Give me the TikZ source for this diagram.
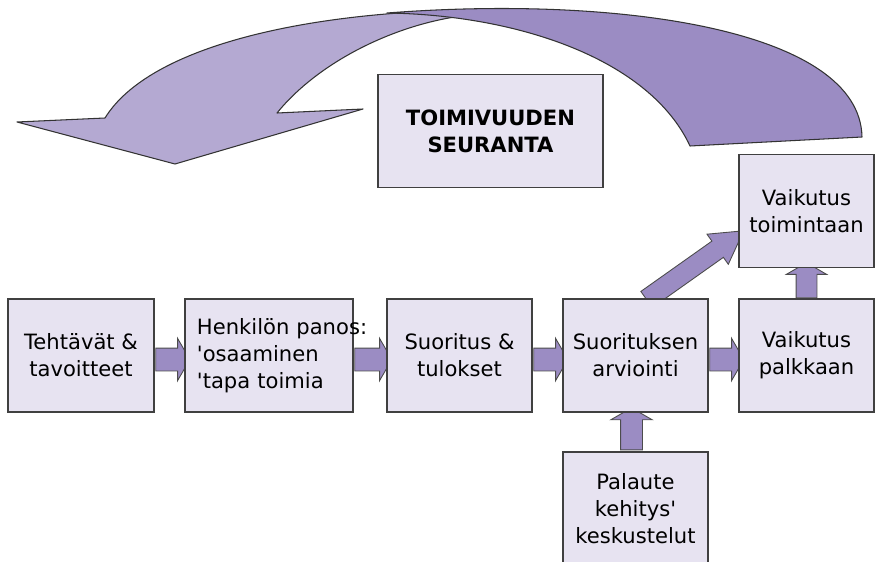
\documentclass[tikz,border=0pt]{standalone}
\usepackage{fontspec}
\setmainfont{DejaVu Sans}
\usetikzlibrary{calc,shapes.arrows,backgrounds}
\definecolor{boxfill}{HTML}{E7E3F1}
\definecolor{arrowdark}{HTML}{9B8CC3}
\definecolor{arrowlight}{HTML}{B4A9D2}
\begin{document}
\begin{tikzpicture}
        [x=0.2mm, y=-0.2mm,
        stage/.style={draw=black!75, line width=0.6pt, fill=boxfill, minimum width=29mm, minimum height=22.6mm,
          align=center, inner sep=0pt, font=\fontsize{12}{15.4}\selectfont},
        flow/.style={single arrow, draw=black!70, line width=0.5pt, fill=arrowdark, inner xsep=0pt, inner ysep=2.2mm,
          single arrow head extend=1.95mm, single arrow tip angle=120},
        diag/.style={flow, inner ysep=1.9mm, single arrow head extend=1.7mm, single arrow tip angle=60},
        loopband/.style={draw=black!80, line width=0.6pt, line join=round}]

        \useasboundingbox (0,0) rectangle (875,562);
        \clip (0,0) rectangle (875,562);

        % big feedback arrow (light half, then dark half on top)
        \draw[loopband, fill=arrowlight] (277,113) -- (363,109) -- (175,164) -- (17,122) -- (105,118)
            .. controls (150,45) and (310,12) .. (470,10) -- (470,15)
            .. controls (400,22) and (320,60) .. (277,113) -- cycle;
        \draw[loopband, fill=arrowdark] (387,13) .. controls (620,-5) and (860,30) .. (862,137)
            -- (690,146) .. controls (650,60) and (520,15) .. (387,13) -- cycle;

        % stages
        \node[stage, minimum width=29.2mm] (tav) at (81,355.5) {Tehtävät \&\\tavoitteet};
        \node[stage, minimum width=33.6mm, text width=28.8mm, align=left] (pan) at (269,355.5)
            {\mbox{Henkilön panos:}\\\textquotesingle osaaminen\\\textquotesingle tapa toimia};
        \node[stage] (suo) at (459.5,355.5) {Suoritus \&\\tulokset};
        \node[stage] (arv) at (635.5,355.5) {Suorituksen\\arviointi};
        \node[stage, minimum width=27mm] (pal) at (806.5,355.5) {Vaikutus\\palkkaan};
        \node[stage, minimum width=27mm] (toim) at (806.5,211) {Vaikutus\\toimintaan};
        \node[stage, minimum width=45mm, font=\fontsize{12}{15.4}\selectfont\bfseries] (seur) at (490.5,131)
            {TOIMIVUUDEN\\SEURANTA};
        \node[stage] (kesk) at (635.5,508.5) {Palaute\\kehitys\textquotesingle\\keskustelut};

        % block arrows between the stages
        \coordinate (dtail) at ($(arv.north)+(4.3,5.8)$);
        \coordinate (dtip) at ($(toim.west)+(-2,25)$);
        \begin{scope}[on background layer]
        \node[flow, minimum height=6.8mm] (a1) at ($(tav.east)!.5!(pan.west)+(0,4)$) {};
        \node[flow, minimum height=7.4mm] (a2) at ($(pan.east)!.5!(suo.west)+(0,4)$) {};
        \node[flow, minimum height=6.8mm] (a3) at ($(suo.east)!.5!(arv.west)+(0,4)$) {};
        \node[flow, minimum height=6.8mm] (a4) at ($(arv.east)!.5!(pal.west)+(0,4)$) {};
        \node[flow, minimum height=7mm, rotate=90, inner ysep=2mm] (a5) at ($(pal.north)!.5!(toim.south)$) {};
        \node[flow, minimum height=8.4mm, rotate=90, inner ysep=2.1mm] (a6) at ($(kesk.north)!.5!(arv.south)+(-4,0)$) {};
        \node[diag, minimum height=23.8mm, rotate=35.3] (a7) at ($(dtail)!.5!(dtip)$) {};
        \end{scope}

\end{tikzpicture}
\end{document}
